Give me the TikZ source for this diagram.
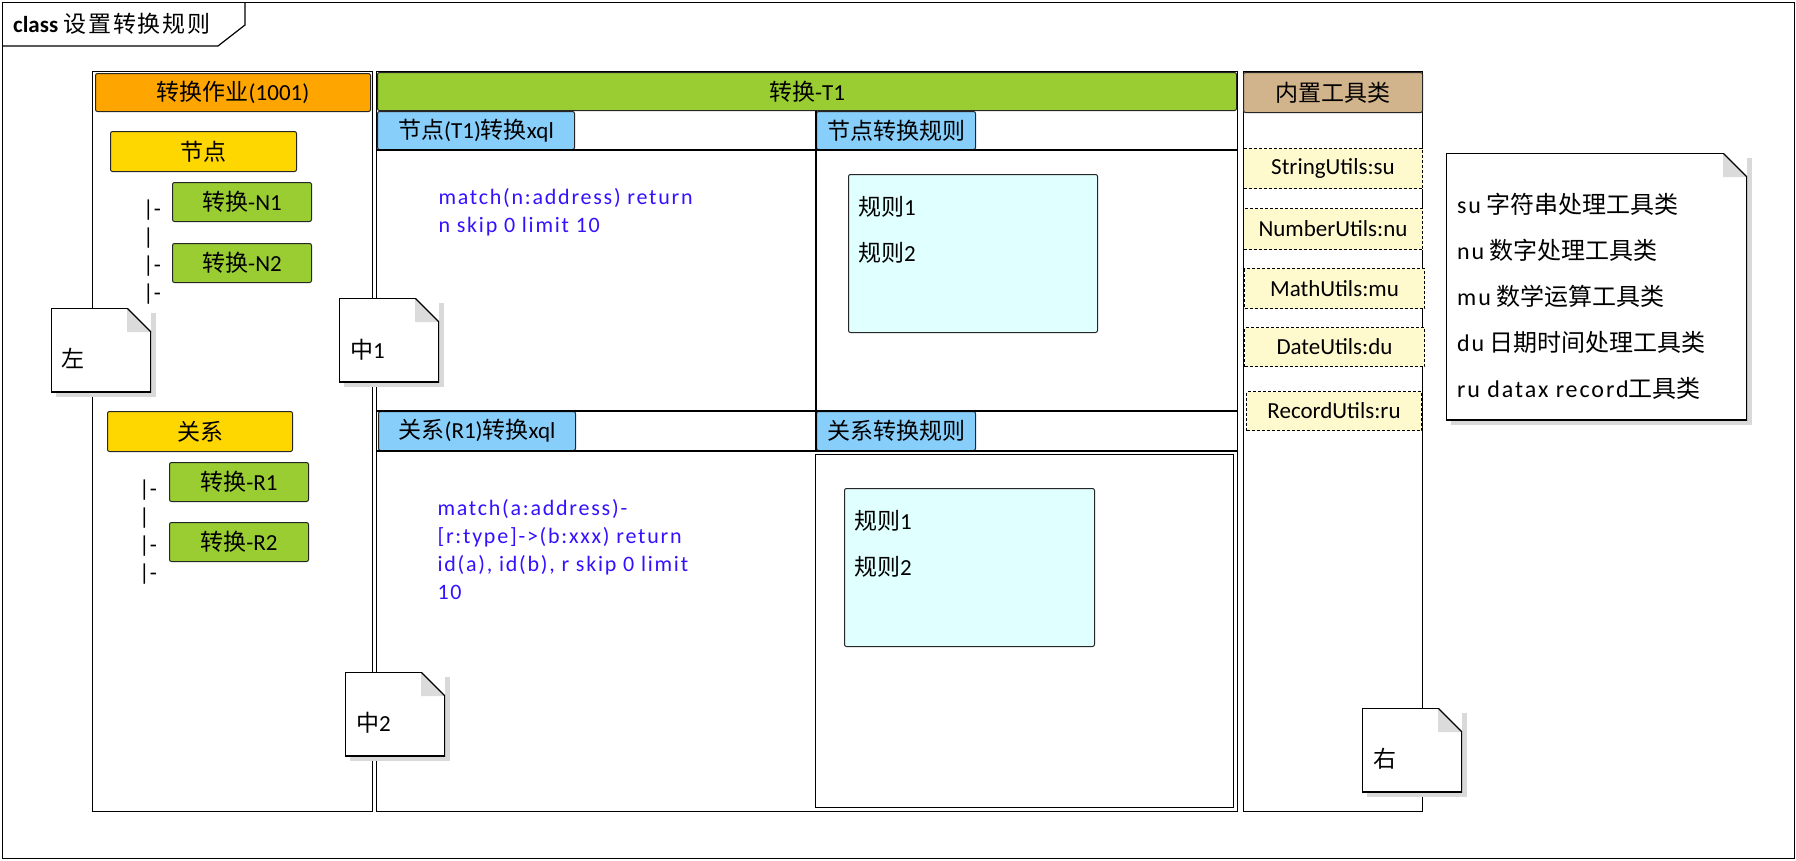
\documentclass[tikz,border=0pt]{standalone}
\usepackage{fontspec}
\setmainfont{Carlito}
\newfontfamily\cjk{Noto Sans CJK SC}
\newfontfamily\cjkwide[LetterSpace=8]{Noto Sans CJK SC}
\newfontfamily\codefont[LetterSpace=8]{Carlito}
\newcommand{\zh}[1]{{\cjk #1}}
\newcommand{\lbl}{\fontsize{23}{28}\selectfont}
\newcommand{\codesize}{\fontsize{22}{28}\selectfont}
\newcommand{\notesize}{\fontsize{23}{46}\selectfont}
\newcommand{\toolsize}{\fontsize{24}{46}\selectfont}
\usetikzlibrary{positioning, shadows}

\definecolor{jobOrange}{RGB}{255,165,0}
\definecolor{grpGold}{RGB}{255,215,0}
\definecolor{convGreen}{RGB}{154,205,50}
\definecolor{tabBlue}{RGB}{135,206,250}
\definecolor{toolTan}{RGB}{210,180,140}
\definecolor{ruleCyan}{RGB}{224,255,255}
\definecolor{utilLemon}{RGB}{255,250,205}
\definecolor{codeBlue}{RGB}{51,17,255}

\tikzset{
    lanebox/.style={
        draw, % 泳道边框
        line width=1.2pt,
        anchor=north west,
        inner sep=0
    },
    headbox/.style={
        draw=black!85,
        line width=1pt,
        rounded corners=2pt, % 小圆角
        anchor=north west,
        inner sep=1pt
    },
    utilbox/.style={
        draw,
        dash pattern=on 3pt off 2pt, % 虚线框
        line width=1pt,
        fill=utilLemon,
        anchor=north west,
        inner sep=1pt
    },
    codetext/.style={
        anchor=west,
        align=left,
        text=codeBlue,
        font=\codesize\codefont
    },
    treemark/.style={
        anchor=west,
        align=left,
        inner sep=0
    },
    notebox/.style={
        rectangle,
        fill=white,
        anchor=north west,
        inner sep=0,
        minimum width=100pt,
        minimum height=84pt,
        drop shadow={shadow xshift=5pt, shadow yshift=-5pt, fill=black!15, opacity=1},
        path picture={
            \draw[line width=2.4pt]
                ([xshift=-24pt]path picture bounding box.north east)
                -- (path picture bounding box.north west)
                -- (path picture bounding box.south west)
                -- (path picture bounding box.south east)
                -- ([yshift=-24pt]path picture bounding box.north east);
            \fill[black!14]
                ([xshift=-24pt]path picture bounding box.north east)
                -- ([xshift=-24pt,yshift=-24pt]path picture bounding box.north east)
                -- ([yshift=-24pt]path picture bounding box.north east) -- cycle;
            \draw[line width=1.2pt]
                ([xshift=-24pt]path picture bounding box.north east)
                -- ([yshift=-24pt]path picture bounding box.north east);
        }
    },
    notetext/.style={
        anchor=west,
        align=left,
        inner sep=0
    },
    listtext/.style={
        notetext,
        font=\notesize % 行距加大
    }
}

\begin{document}
\begin{tikzpicture}[
        x=1pt, y=-1pt,
        every node/.style={font=\lbl, text=black}
    ]
    \useasboundingbox (0,0) rectangle (1796,860);

    % 外框和标题
    \node[lanebox, minimum width=1792pt, minimum height=856pt] (frame) at (2,2) {};
    \draw[line width=1.2pt] (245,2) -- (245,25) -- (218,46) -- (2,46);
    \node[anchor=west, inner sep=0] (title) at (13,24) {\textbf{class} {\cjkwide 设置转换规则}};

    % 左：转换作业
    \node[lanebox, minimum width=280pt, minimum height=740pt] (laneL) at (92,71) {};
    \node[headbox, fill=jobOrange, minimum width=275pt, minimum height=38pt] (job) at (95,73) {\zh{转换作业}(1001)};
    \node[headbox, fill=grpGold, minimum width=186pt, minimum height=40pt] (nodeGrp) at (110,131) {\zh{节点}};
    \node[headbox, fill=convGreen, minimum width=139pt, minimum height=39pt] (convN1) at (172,182) {\zh{转换}-N1};
    \node[headbox, fill=convGreen, minimum width=139pt, minimum height=39pt] (convN2) at (172,243) {\zh{转换}-N2};
    \node[treemark] (treeN) at (143,252) {|-\\|\\|-\\|-};
    \node[headbox, fill=grpGold, minimum width=185pt, minimum height=40pt] (relGrp) at (107,411) {\zh{关系}};
    \node[headbox, fill=convGreen, minimum width=139pt, minimum height=39pt] (convR1) at (169,462) {\zh{转换}-R1};
    \node[headbox, fill=convGreen, minimum width=139pt, minimum height=39pt] (convR2) at (169,522) {\zh{转换}-R2};
    \node[treemark] (treeR) at (139,532) {|-\\|\\|-\\|-};

    % 中：转换-T1
    \node[lanebox, minimum width=861pt, minimum height=740pt] (laneM) at (376,71) {};
    \node[headbox, fill=convGreen, minimum width=859pt, minimum height=38pt] (conv) at (377,72) {\zh{转换}-T1};
    \node[headbox, fill=tabBlue, minimum width=197pt, minimum height=38pt] (tabNX) at (377,111) {\zh{节点}(T1)\zh{转换}xql};
    \node[headbox, fill=tabBlue, minimum width=159pt, minimum height=38pt] (tabNR) at (816,111) {\zh{节点转换规则}};
    \node[headbox, fill=tabBlue, minimum width=197pt, minimum height=39pt] (tabRX) at (378,411) {\zh{关系}(R1)\zh{转换}xql};
    \node[headbox, fill=tabBlue, minimum width=159pt, minimum height=39pt] (tabRR) at (816,411) {\zh{关系转换规则}};
    \draw[line width=1.2pt] (laneM.west |- tabNX.south) -- (laneM.east |- tabNX.south);
    \draw[line width=1.2pt] (laneM.west |- tabRX.north) -- (laneM.east |- tabRX.north);
    \draw[line width=1.2pt] (laneM.west |- tabRX.south) -- (laneM.east |- tabRX.south);
    \draw[line width=1.2pt] (tabNR.north west) -- (tabRR.south west);

    \node[codetext] (xqlN) at (435,212) {match(n:address) return\\n skip 0 limit 10};
    \node[headbox, fill=ruleCyan, minimum width=249pt, minimum height=158pt] (ruleN) at (848,174) {};
    \node[listtext] (ruleNT) at (858,230) {\zh{规则}1\\\zh{规则}2};

    \node[codetext] (xqlR) at (434,550) {match(a:address)-\\{[}r:type]->(b:xxx) return\\id(a), id(b), r skip 0 limit\\10};
    \node[lanebox, minimum width=418pt, minimum height=353pt] (ruleFrame) at (815,454) {};
    \node[headbox, fill=ruleCyan, minimum width=250pt, minimum height=158pt] (ruleR) at (844,488) {};
    \node[listtext] (ruleRT) at (854,544) {\zh{规则}1\\\zh{规则}2};

    % 右：内置工具类
    \node[lanebox, minimum width=179pt, minimum height=740pt] (laneT) at (1243,71) {};
    \node[headbox, fill=toolTan, minimum width=179pt, minimum height=40pt] (tools) at (1243,72) {\zh{内置工具类}};
    \node[utilbox, minimum width=179pt, minimum height=40pt] (su) at (1243,148) {StringUtils:su};
    \node[utilbox, minimum width=179pt, minimum height=41pt] (nu) at (1243,208) {NumberUtils:nu};
    \node[utilbox, minimum width=180pt, minimum height=40pt] (mu) at (1244,268) {MathUtils:mu};
    \node[utilbox, minimum width=180pt, minimum height=39pt] (du) at (1244,327) {DateUtils:du};
    \node[utilbox, minimum width=175pt, minimum height=39pt] (ru) at (1246,391) {RecordUtils:ru};

    % 注释
    \node[notebox] (noteL) at (51,308) {};
    \node[notetext] (zuo) at ([shift={(10,50)}]noteL.north west) {\zh{左}};
    \node[notebox] (noteM1) at (339,298) {};
    \node[notetext] (zhong1) at ([shift={(11,52)}]noteM1.north west) {\zh{中}1};
    \node[notebox] (noteM2) at (345,672) {};
    \node[notetext] (zhong2) at ([shift={(11,51)}]noteM2.north west) {\zh{中}2};
    \node[notebox] (noteR) at (1362,708) {};
    \node[notetext] (you) at ([shift={(11,51)}]noteR.north west) {\zh{右}};
    \node[notebox, minimum width=301pt, minimum height=267pt] (toolNote) at (1446,153) {};
    \node[listtext, font=\toolsize] (toolText) at (1457,296) {
        {\codefont su} \zh{字符串处理工具类}\\
        {\codefont nu} \zh{数字处理工具类}\\
        {\codefont mu} \zh{数学运算工具类}\\
        {\codefont du} \zh{日期时间处理工具类}\\
        {\codefont ru datax record}\zh{工具类}};
\end{tikzpicture}
\end{document}
